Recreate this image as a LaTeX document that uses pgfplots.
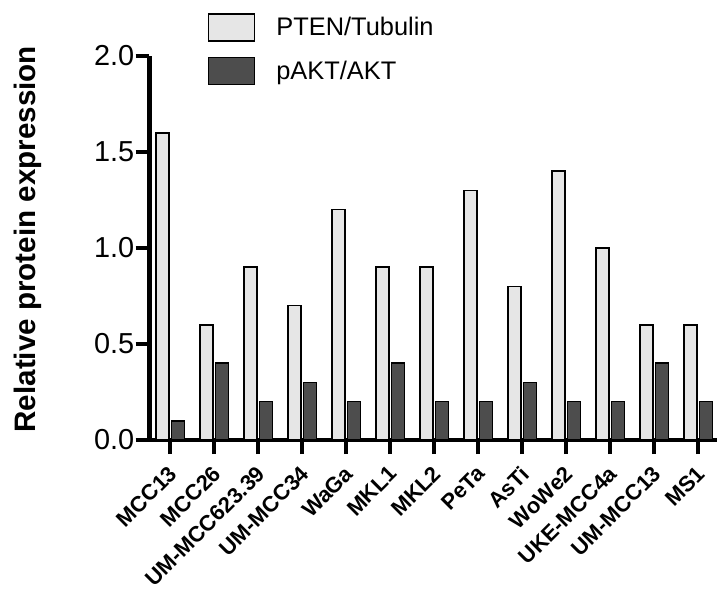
\documentclass[border=0pt]{standalone}
\usepackage{pgfplots}
\pgfplotsset{compat=1.18}
\usepackage{fontspec}
\setmainfont{Liberation Sans}
\definecolor{lightbar}{RGB}{230,230,230}
\definecolor{darkbar}{RGB}{77,77,77}
\begin{document}
\begin{tikzpicture}
\begin{axis}[
  scale only axis,
  width=567.5bp, height=384bp,
  ybar=2.5bp, bar width=13bp,
  xmin=-0.466, xmax=12.43,
  ymin=0, ymax=2,
  axis x line=bottom, axis y line=left,
  axis line style={-, line width=4.5bp},
  tick align=outside,
  major tick length=14bp,
  tick style={line width=4.5bp, black},
  ytick={0,0.5,1,1.5,2},
  yticklabel style={/pgf/number format/fixed, /pgf/number format/fixed zerofill, /pgf/number format/precision=1, font=\fontsize{29}{29}\selectfont, inner sep=1bp},
  /pgf/number format/assume math mode=true,
  xtick=data,
  xticklabels={MCC13,MCC26,UM-MCC623.39,UM-MCC34,WaGa,MKL1,MKL2,PeTa,AsTi,WoWe2,UKE-MCC4a,UM-MCC13,MS1},
  xticklabel style={xshift=-2.5bp, rotate=45, anchor=north east, font=\bfseries\fontsize{22}{22}\selectfont, inner sep=1bp},
  xticklabel shift=9bp,
  ylabel={\bfseries Relative protein expression},
  ylabel style={at={(axis description cs:-0.214,0.523)}, anchor=center, font=\bfseries\fontsize{29.7}{29.7}\selectfont},
  legend image code/.code={\draw[#1, line width=1.5bp] (0bp,-13.5bp) rectangle (46bp,13.5bp);},
  legend cell align=left,
  legend style={draw=none, fill=none, at={(axis description cs:0.1025,1.112)}, anchor=north west,
    font=\fontsize{25.5}{25.5}\selectfont, row sep=15bp, inner sep=0pt,
    /tikz/every odd column/.style={column sep=19bp}},
]
\addplot[draw=black, line width=1.5bp, fill=lightbar] coordinates {
(0,1.6) (1,0.6) (2,0.9) (3,0.7) (4,1.2) (5,0.9) (6,0.9) (7,1.3) (8,0.8) (9,1.4) (10,1.0) (11,0.6) (12,0.6)};
\addplot[draw=black, line width=1.5bp, fill=darkbar] coordinates {
(0,0.1) (1,0.4) (2,0.2) (3,0.3) (4,0.2) (5,0.4) (6,0.2) (7,0.2) (8,0.3) (9,0.2) (10,0.2) (11,0.4) (12,0.2)};
\legend{PTEN/Tubulin, pAKT/AKT}
\end{axis}
\pgfresetboundingbox
\path (current axis.south west) ++(-149.5bp,-154bp) rectangle ++(718bp,594bp);
\end{tikzpicture}
\end{document}
